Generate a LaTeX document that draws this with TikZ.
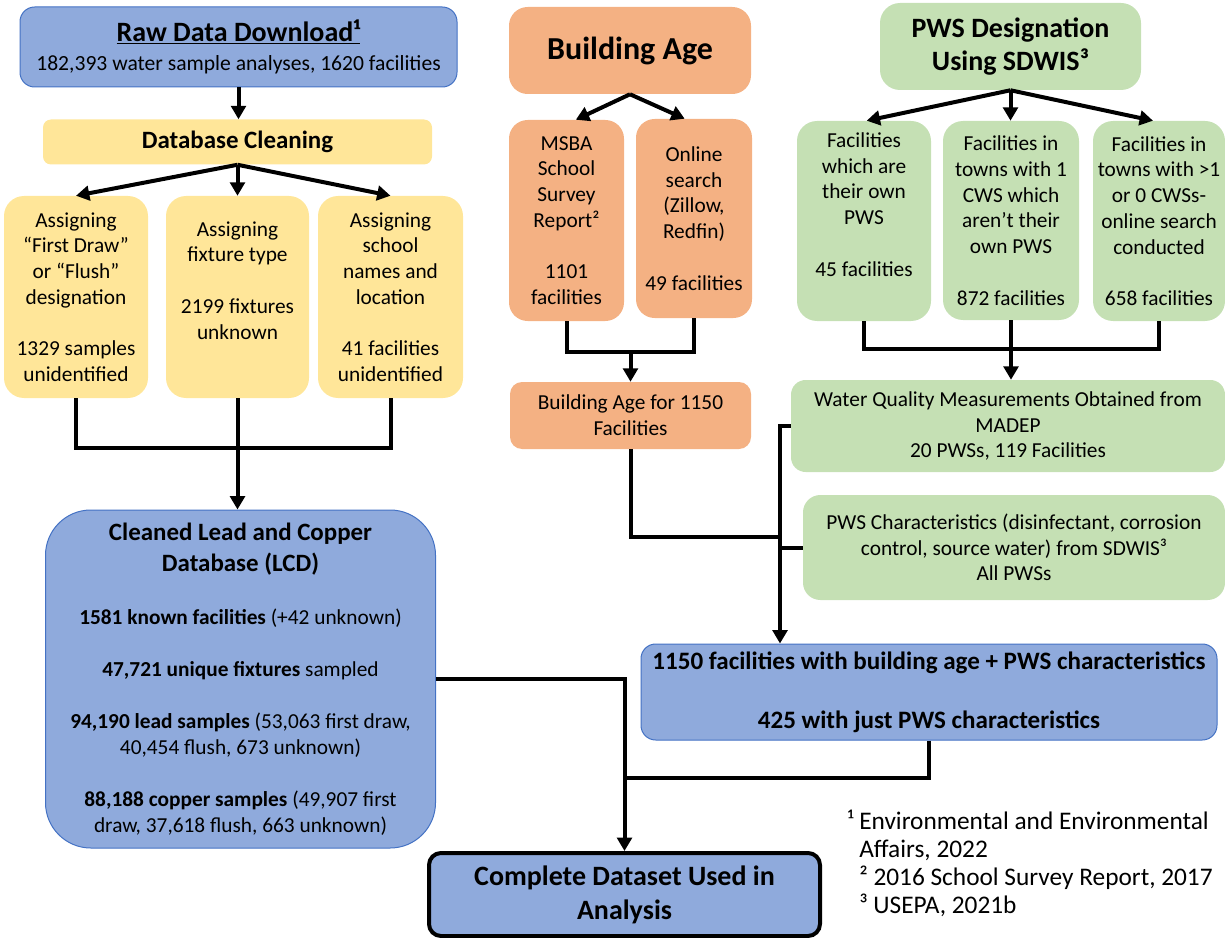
\documentclass[tikz,border=0pt]{standalone}
\usepackage{fontspec}
\setmainfont{Carlito}
\usepackage{tikz}
\usetikzlibrary{arrows.meta}
\usepackage{xcolor}
\definecolor{blueF}{HTML}{8FAADC}
\definecolor{blueD}{HTML}{4472C4}
\definecolor{yellowF}{HTML}{FFE699}
\definecolor{orangeF}{HTML}{F4B183}
\definecolor{greenF}{HTML}{C5E0B4}

\begin{document}
\begin{tikzpicture}[x=0.75pt,y=0.75pt,yscale=-1,xscale=1,
  box/.style={inner sep=0pt, align=center, font=\fontsize{16}{19.3}\selectfont},
  bluebox/.style={box, fill=blueF, draw=blueD, line width=0.75pt},
  yellowbox/.style={box, fill=yellowF, rounded corners=15pt},
  orangebox/.style={box, fill=orangeF, rounded corners=14pt},
  greenbox/.style={box, fill=greenF, rounded corners=15pt},
  line/.style={line width=3pt},
  arr/.style={line, -{Triangle[length=10pt,width=11pt]}}]
%set diagram size 1225 x 938
\useasboundingbox (0,0) rectangle (1225,938);

%Shape: Rounded Rect -- raw data
\draw (238.5,47) node [bluebox, rounded corners=11pt, minimum width=327.75pt, minimum height=60pt] (raw) {{\fontsize{21}{25}\selectfont\bfseries\underline{Raw Data Download¹}}\\[2.4pt]{\fontsize{16.2}{19.4}\selectfont 182,393 water sample analyses, 1620 facilities}};
%Shape: Rounded Rect -- cleaning
\draw (237.5,142) node [box, fill=yellowF, rounded corners=6pt, minimum width=291.75pt, minimum height=33.75pt, font=\fontsize{18.7}{22}\selectfont\bfseries] (clean) {Database Cleaning};
%Shape: Rounded Rect -- cleaning steps
\draw (76,297) node [yellowbox, minimum width=108pt, minimum height=151.5pt] (fa) {Assigning\\“First Draw”\\or “Flush”\\designation\\[19.3pt]1329 samples\\unidentified};
\draw (237.5,297) node [yellowbox, minimum width=107.25pt, minimum height=151.5pt] (fb) {Assigning\\fixture type\\[19.3pt]2199 fixtures\\unknown\\\strut};
\draw (390.5,297) node [yellowbox, minimum width=108.75pt, minimum height=151.5pt] (fc) {Assigning\\school\\names and\\location\\[19.3pt]41 facilities\\unidentified};
%Shape: Rounded Rect -- LCD
\draw (240.5,679) node [bluebox, rounded corners=34pt, minimum width=292.5pt, minimum height=253.5pt] (lcd) {{\fontsize{18.7}{23.25}\selectfont\bfseries Cleaned Lead and Copper}\\[3.95pt]{\fontsize{18.7}{23.25}\selectfont\bfseries Database (LCD)}\\[20.45pt]\textbf{1581 known facilities} (+42 unknown)\\[19.7pt]\textbf{47,721 unique fixtures} sampled\\[19.7pt]\textbf{94,190 lead samples} (53,063 first draw,\\40,454 flush, 673 unknown)\\[19.7pt]\textbf{88,188 copper samples} (49,907 first\\draw, 37,618 flush, 663 unknown)};

%Shape: Rounded Rect -- building age
\draw (630,50.5) node [orangebox, minimum width=181.5pt, minimum height=65.25pt, font=\fontsize{24}{28}\selectfont\bfseries] (bage) {\raisebox{3pt}{Building Age}};
\draw (566.5,220.5) node [orangebox, minimum width=86.25pt, minimum height=150.75pt] (msba) {MSBA\\School\\Survey\\Report²\\[19.3pt]1101\\facilities};
\draw (694,218.5) node [orangebox, minimum width=87pt, minimum height=149.25pt] (online) {Online\\search\\(Zillow,\\Redfin)\\[19.3pt]49 facilities};
\draw (630.5,415.5) node [orangebox, rounded corners=9pt, minimum width=180.75pt, minimum height=50.25pt] (bage2) {Building Age for 1150\\Facilities};

%Shape: Rounded Rect -- PWS
\draw (1010.5,46.5) node [greenbox, minimum width=195.75pt, minimum height=65.25pt, font=\fontsize{21}{24.75}\selectfont\bfseries] (pws) {PWS Designation\\Using SDWIS³};
\draw (864,221) node [greenbox, minimum width=100.5pt, minimum height=150pt] (ga) {Facilities\\which are\\their own\\PWS\\[19.3pt]45 facilities\\\strut};
\draw (1011,220.5) node [greenbox, minimum width=102pt, minimum height=149.25pt] (gb) {Facilities in\\towns with 1\\CWS which\\aren’t their\\own PWS\\[19.3pt]872 facilities};
\draw (1159,221) node [greenbox, minimum width=99pt, minimum height=150pt] (gc) {Facilities in\\towns with >1\\or 0 CWSs-\\online search\\conducted\\[19.3pt]658 facilities};
\draw (1008,426) node [greenbox, rounded corners=11pt, minimum width=325.5pt, minimum height=69pt] (wq) {Water Quality Measurements Obtained from\\MADEP\\20 PWSs, 119 Facilities};
\draw (1014,547.5) node [greenbox, rounded corners=13pt, minimum width=316.5pt, minimum height=78.75pt] (pwsc) {PWS Characteristics (disinfectant, corrosion\\control, source water) from SDWIS³\\All PWSs};

%Shape: Rounded Rect -- results
\draw (929,692) node [bluebox, rounded corners=11pt, minimum width=432pt, minimum height=72pt, font=\fontsize{18.8}{22.5}\selectfont\bfseries] (facil) {1150 facilities with building age + PWS characteristics\\[21.75pt]425 with just PWS characteristics};
\draw (624.5,894.5) node [box, fill=blueF, draw=black, line width=3pt, rounded corners=9pt, minimum width=293.25pt, minimum height=62.25pt, font=\fontsize{21}{25.5}\selectfont\bfseries] (complete) {Complete Dataset Used in\\Analysis};

% Text Node -- references
\draw (859,810) node [anchor=north west, inner sep=0pt, align=left, font=\fontsize{19}{21}\selectfont] (refs) {\llap{¹ }Environmental and Environmental\\Affairs, 2022\\² 2016 School Survey Report, 2017\\³ USEPA, 2021b};

%Junctions
\coordinate (jclean) at (237.5,448);
\coordinate (jage) at (630.5,352);
\coordinate (jpws) at (1011,349);
\coordinate (jtop) at (780,426);
\coordinate (jmid) at (780,537);
\coordinate (jfin) at (624.5,778);

%Straight Lines -- left branch
\draw [arr] (raw.south) -- (raw.south |- clean.north);
\draw [arr] (clean.south) -- (fa.north);
\draw [arr] (clean.south) -- (fb.north);
\draw [arr] (clean.south) -- (fc.north);
\draw [line] (fa.south) |- (jclean) -| (fc.south);
\draw [arr] (fb.south) -- (fb.south |- lcd.north);
%Straight Lines -- building age branch
\draw [arr] (bage.south) -- ([xshift=7pt]msba.north);
\draw [arr] (bage.south) -- ([xshift=-7pt]online.north);
\draw [line] (msba.south) |- (jage) -| (online.south);
\draw [arr] (jage) -- (bage2.north);
%Straight Lines -- PWS branch
\draw [arr] (pws.south) -- ([xshift=2pt]ga.north);
\draw [arr] (pws.south) -- (pws.south |- gb.north);
\draw [arr] (pws.south) -- ([xshift=-4.5pt]gc.north);
\draw [line] (ga.south) |- (jpws) -| (gc.south);
\draw [arr] (gb.south) -- (gb.south |- wq.north);
%Straight Lines -- trunk
\draw [arr] (wq.west) -- (jtop) -- (jtop |- facil.north);
\draw [line] (pwsc.west) -- (pwsc.west -| jtop);
\draw [line] (bage2.south) |- (jmid);
%Straight Lines -- final
\draw [arr] (lcd.east) -| (complete.north);
\draw [line] (facil.south) |- (jfin);

\end{tikzpicture}
\end{document}
